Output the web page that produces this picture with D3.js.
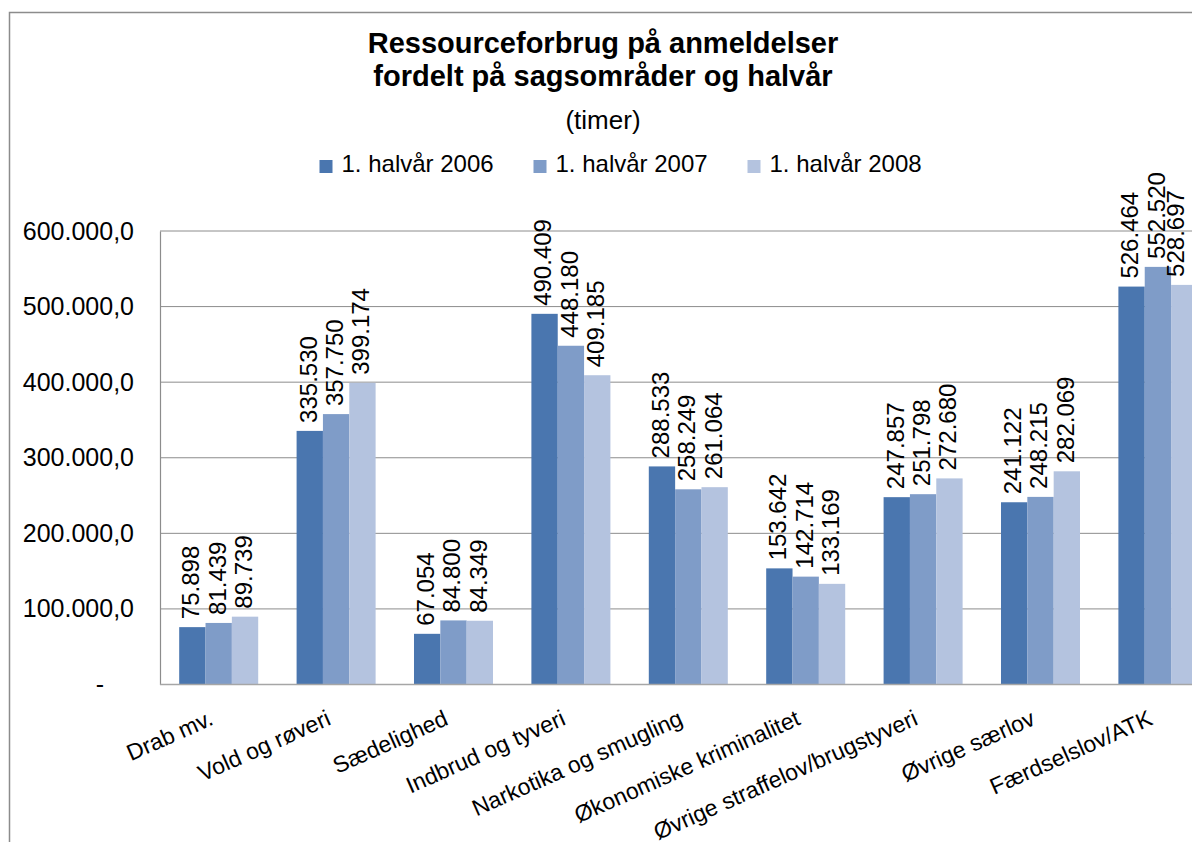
<!DOCTYPE html>
<html>
<head>
<meta charset="utf-8">
<script src="https://cdn.jsdelivr.net/npm/d3@7"></script>
<style>
  html, body { margin: 0; padding: 0; background: #fff; }
  svg text { font-family: "Liberation Sans", Arial, sans-serif; fill: #000; }
</style>
</head>
<body>
<div class="canva"></div>
<script>
// data
var categories = ["Drab mv.", "Vold og røveri", "Sædelighed", "Indbrud og tyveri",
                  "Narkotika og smugling", "Økonomiske kriminalitet",
                  "Øvrige straffelov/brugstyveri", "Øvrige særlov", "Færdselslov/ATK"];
var seriesNames = ["1. halvår 2006", "1. halvår 2007", "1. halvår 2008"];
var h2006 = [75898, 335530, 67054, 490409, 288533, 153642, 247857, 241122, 526464];
var h2007 = [81439, 357750, 84800, 448180, 258249, 142714, 251798, 248215, 552520];
var h2008 = [89739, 399174, 84349, 409185, 261064, 133169, 272680, 282069, 528697];
var yTicks = [0, 100000, 200000, 300000, 400000, 500000, 600000];
var colors = ["#4a76af", "#7f9cc8", "#b4c3df"];

var seriesValues = [h2006, h2007, h2008];

const W = 1192, H = 842;
const svg = d3.select(".canva").append("svg")
            .attr("width", W)
            .attr("height", H);

// danish number format
const da = d3.formatLocale({decimal: ",", thousands: ".", grouping: [3], currency: ["", " kr."]});
const fmtTick = da.format(",.1f");
const fmtVal = da.format(",d");

// outer chart border (runs off the right / bottom edge)
svg.append("rect")
    .attr("x", 9.5).attr("y", 12.5)
    .attr("width", 1300).attr("height", 1000)
    .attr("fill", "none")
    .attr("stroke", "#8c8c8c")
    .attr("stroke-width", 1.5);

// title
const title = svg.append("g").attr("text-anchor", "middle");
title.append("text").attr("x", 603).attr("y", 53)
    .style("font-size", "29px").style("font-weight", "bold")
    .text("Ressourceforbrug på anmeldelser");
title.append("text").attr("x", 603).attr("y", 86)
    .style("font-size", "29px").style("font-weight", "bold")
    .text("fordelt på sagsområder og halvår");
title.append("text").attr("x", 603).attr("y", 129)
    .style("font-size", "26px")
    .text("(timer)");

// legend
const legend = svg.selectAll(".legend")
    .data(seriesNames)
    .enter()
    .append("g")
    .attr("class", "legend")
    .attr("transform", (d, i) => `translate(${319.5 + i * 214}, 0)`);
legend.append("rect")
    .attr("y", 160).attr("width", 13).attr("height", 13)
    .attr("fill", (d, i) => colors[i]);
legend.append("text")
    .attr("x", 22).attr("y", 172)
    .style("font-size", "24px")
    .text(d => d);

// scales
const plotLeft = 160, step = 117.4;
var x = d3.scaleBand()
    .domain(categories)
    .range([plotLeft, plotLeft + step * categories.length])
    .paddingInner(0.327)
    .paddingOuter(0.1635);

var x1 = d3.scaleBand()
    .domain(seriesNames)
    .range([0, x.bandwidth()]);

var y = d3.scaleLinear()
    .domain([0, 600000])
    .range([684.5, 231]);

// gridlines
svg.append("g")
    .selectAll("line")
    .data(yTicks.filter(d => d > 0))
    .enter()
    .append("line")
    .attr("x1", plotLeft).attr("x2", W)
    .attr("y1", d => y(d)).attr("y2", d => y(d))
    .attr("stroke", "#8c8c8c")
    .attr("stroke-width", 1);

// y axis
var yAxis = d3.axisLeft(y)
    .tickValues(yTicks)
    .tickSize(0)
    .tickPadding(26)
    .tickFormat(d => d === 0 ? "-" : fmtTick(d));

const yG = svg.append("g")
    .attr("transform", `translate(${plotLeft}, 0)`)
    .call(yAxis);
yG.select(".domain").attr("stroke", "#8c8c8c").attr("stroke-width", 1.2);
yG.selectAll("text")
    .style("font-size", "25px")
    .attr("font-family", null)
    .attr("dx", d => d === 0 ? -30 : 0);

// bars
const groups = svg.selectAll(".grp")
    .data(categories)
    .enter()
    .append("g")
    .attr("class", "grp")
    .attr("transform", d => `translate(${x(d)}, 0)`);

groups.selectAll("rect")
    .data((d, i) => seriesNames.map((s, k) => ({s: s, v: seriesValues[k][i], k: k})))
    .enter()
    .append("rect")
    .attr("x", d => x1(d.s))
    .attr("width", x1.bandwidth())
    .attr("y", d => y(d.v))
    .attr("height", d => y(0) - y(d.v))
    .attr("fill", d => colors[d.k]);

// value labels, rotated; kept inside the visible area at the right edge
groups.selectAll(".val")
    .data((d, i) => seriesNames.map((s, k) => ({s: s, v: seriesValues[k][i], k: k, c: d})))
    .enter()
    .append("text")
    .attr("class", "val")
    .attr("transform", function(d) {
        var cx = x1(d.s) + x1.bandwidth() / 2 - 1.5;
        var maxX = W - 16 - x(d.c);
        return `translate(${Math.min(cx, maxX)}, ${y(d.v) - 8}) rotate(-90)`;
    })
    .attr("dy", "0.35em")
    .style("font-size", "24px")
    .text(d => fmtVal(d.v));

// x axis line
svg.append("line")
    .attr("x1", plotLeft).attr("x2", W)
    .attr("y1", y(0)).attr("y2", y(0))
    .attr("stroke", "#a6a6a6")
    .attr("stroke-width", 1.5);

// category labels
svg.append("g")
    .selectAll("text")
    .data(categories)
    .enter()
    .append("text")
    .attr("text-anchor", "end")
    .attr("transform", d => `translate(${x(d) + x.bandwidth() / 2 - 4}, 724) rotate(-24)`)
    .style("font-size", "23px")
    .text(d => d);
</script>
</body>
</html>
